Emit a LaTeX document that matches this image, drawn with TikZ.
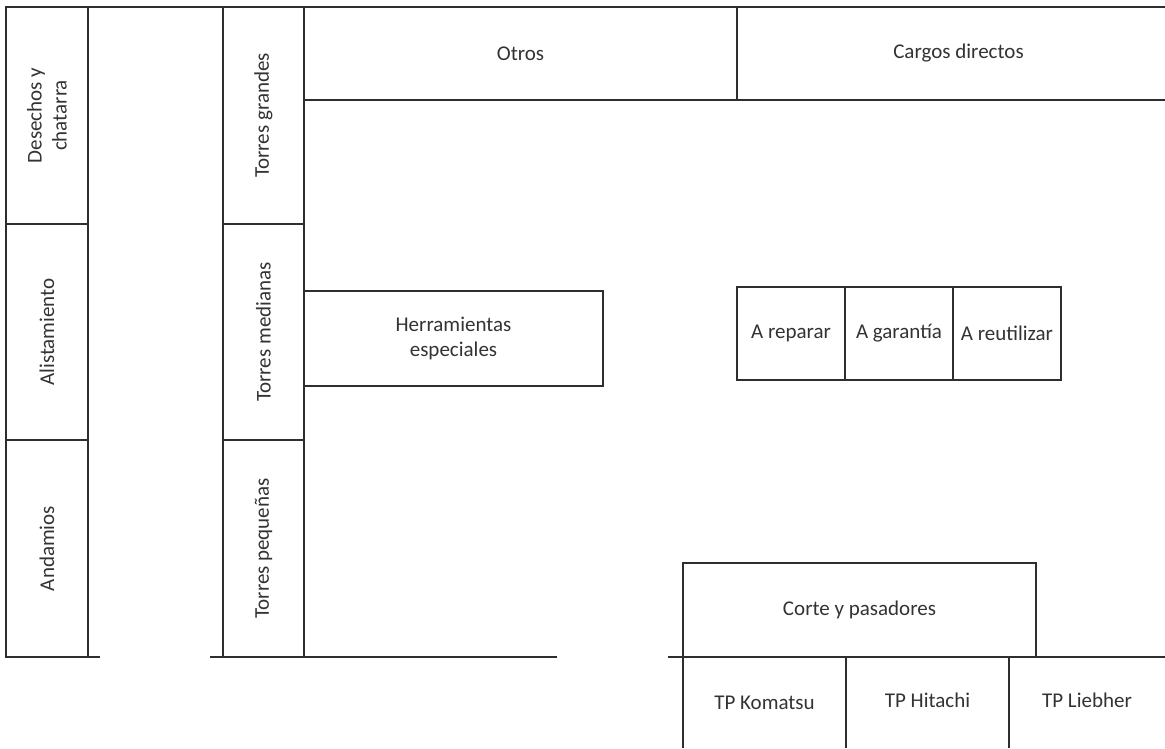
\documentclass[tikz,border=0pt]{standalone}
\usepackage{fontspec}
\setmainfont{Carlito}
\definecolor{linec}{HTML}{2E2E2E}
\definecolor{textc}{HTML}{333333}
\tikzset{
  cell/.style={draw=linec, line width=1.3pt, inner sep=0pt, outer sep=0pt,
    font=\fontsize{21}{25}\selectfont, text=textc, align=center},
  vcell/.style={cell, rotate=90},
  lbl/.style={inner sep=0pt, font=\fontsize{21}{25}\selectfont, text=textc, align=center},
  thin/.style={draw=linec, line width=1.3pt},
  thick/.style={draw=linec, line width=2.6pt}
}
\begin{document}
\begin{tikzpicture}[x=1pt,y=-1pt]
\clip (0,0) rectangle (1165,748);
\fill[white] (0,0) rectangle (1165,748);
% left column
\node[vcell, minimum width=217pt, minimum height=82pt] (desechos) at (47,115.5) {Desechos y\\chatarra};
\node[vcell, minimum width=216pt, minimum height=82pt] (alist) at (47,332) {Alistamiento};
\node[vcell, minimum width=217pt, minimum height=82pt] (andamios) at (47,548.5) {Andamios};
% second column
\node[vcell, minimum width=217pt, minimum height=81pt] (grandes) at (263.5,115.5) {Torres grandes};
\node[vcell, minimum width=216pt, minimum height=81pt] (medianas) at (263.5,332) {Torres medianas};
\node[vcell, minimum width=217pt, minimum height=81pt] (pequenas) at (263.5,548.5) {Torres pequeñas};
% top boxes
\node[cell, minimum width=433pt, minimum height=93pt] (otros) at (520.5,53.5) {Otros};
\node[cell, minimum width=443pt, minimum height=93pt] (cargos) at (958.5,53.5) {Cargos directos};
% middle boxes
\node[cell, minimum width=299pt, minimum height=95pt] (herr) at (453.5,338.5) {Herramientas\\especiales};
\node[cell, minimum width=108pt, minimum height=93pt] (rep) at (791,333.5) {A reparar};
\node[cell, minimum width=108pt, minimum height=93pt] (gar) at (899,333.5) {A garantía};
\node[cell, minimum width=108pt, minimum height=93pt] (reu) at (1007,333.5) {A reutilizar};
% bottom
\node[cell, minimum width=353pt, minimum height=94pt] (corte) at (859.5,610) {Corte y pasadores};
\node[lbl] (kom) at (764.5,703) {TP Komatsu};
\node[lbl] (hit) at (927.5,700) {TP Hitachi};
\node[lbl] (lie) at (1087,700) {TP Liebher};
% free lines
\coordinate (tl) at (5,7);
\coordinate (tr) at (1165,7);
\coordinate (vt) at (304,7);
\coordinate (vb) at (304,657);
\coordinate (b1a) at (5,657);
\coordinate (b1b) at (100,657);
\coordinate (b2a) at (210,657);
\coordinate (b2b) at (557,657);
\coordinate (b3a) at (668,657);
\coordinate (b3b) at (1165,657);
\coordinate (k1) at (683,657);
\coordinate (k2) at (683,748);
\coordinate (h1) at (846,657);
\coordinate (h2) at (846,748);
\coordinate (l1) at (1009,657);
\coordinate (l2) at (1009,748);
\draw[thin] (tl) -- (tr);
\draw[thin] (b1a) -- (b1b);
\draw[thin] (b2a) -- (b2b);
\draw[thin] (b3a) -- (b3b);
\draw[thin] (k1) -- (k2);
\draw[thin] (h1) -- (h2);
\draw[thin] (l1) -- (l2);
\draw[thick] (vt) -- (vb);
\end{tikzpicture}
\end{document}
